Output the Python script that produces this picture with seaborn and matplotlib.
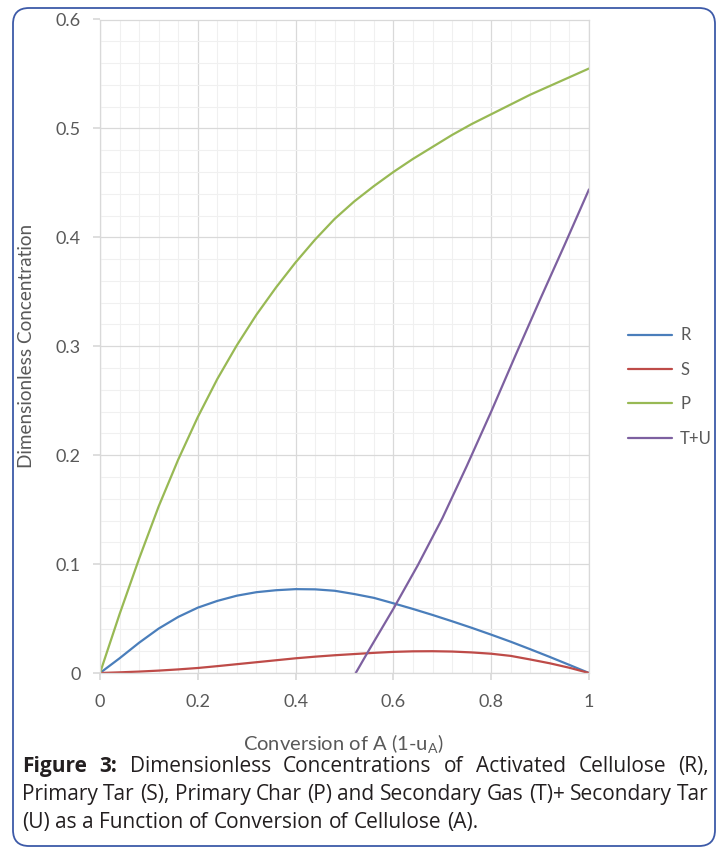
import numpy as np
import pandas as pd
import matplotlib
matplotlib.use("Agg")
import matplotlib.pyplot as plt
import seaborn as sns
from matplotlib.patches import FancyBboxPatch
from matplotlib.ticker import MultipleLocator, FuncFormatter
from matplotlib.transforms import IdentityTransform

# values
conv = [0, 0.04, 0.08, 0.12, 0.16, 0.2, 0.24, 0.28, 0.32, 0.36, 0.4, 0.44, 0.48,
        0.52, 0.56, 0.6, 0.64, 0.68, 0.72, 0.76, 0.8, 0.84, 0.88, 0.92, 0.96, 1.0]
r_vals = [0, 0.0135, 0.0278, 0.0408, 0.0515, 0.0600, 0.0662, 0.0710, 0.0742, 0.0760, 0.0770,
          0.0768, 0.0755, 0.0725, 0.0690, 0.0640, 0.0588, 0.0533, 0.0475, 0.0415, 0.0352,
          0.0287, 0.0218, 0.0147, 0.0074, 0.0]
s_vals = [0, 0.0006, 0.0013, 0.0022, 0.0033, 0.0046, 0.0063, 0.0081, 0.0099, 0.0117, 0.0135,
          0.015, 0.0163, 0.0174, 0.0185, 0.0194, 0.0199, 0.0200, 0.0197, 0.0189, 0.0177,
          0.0157, 0.0124, 0.0089, 0.0048, 0.0]
p_vals = [0, 0.054, 0.105, 0.153, 0.196, 0.235, 0.270, 0.301, 0.329, 0.354, 0.377,
          0.398, 0.417, 0.433, 0.447, 0.460, 0.472, 0.483, 0.494, 0.504, 0.513,
          0.522, 0.531, 0.539, 0.547, 0.555]
tu_conv = [0.523, 0.55, 0.6, 0.65, 0.7, 0.75, 0.8, 0.85, 0.9, 0.95, 1.0]
tu_vals = [0, 0.021, 0.059, 0.099, 0.142, 0.19, 0.24, 0.292, 0.343, 0.393, 0.444]

series = ["R", "S", "P", "T+U"]
colors = {"R": "#4a7ebb", "S": "#be4b48", "P": "#98b954", "T+U": "#7d60a0"}

df = pd.concat([
    pd.DataFrame({"x": conv, "y": r_vals, "series": "R"}),
    pd.DataFrame({"x": conv, "y": s_vals, "series": "S"}),
    pd.DataFrame({"x": conv, "y": p_vals, "series": "P"}),
    pd.DataFrame({"x": tu_conv, "y": tu_vals, "series": "T+U"}),
], ignore_index=True)

sns.set_theme(style="white")
plt.rcParams["font.family"] = ["Lato", "DejaVu Sans"]
plt.rcParams["mathtext.fontset"] = "custom"
plt.rcParams["mathtext.rm"] = "Lato"

W, H = 720, 848
fig = plt.figure(figsize=(W / 100, H / 100), dpi=100)
ax = fig.add_axes([100 / W, 1 - 673 / H, 489 / W, 653.5 / H])

sns.lineplot(data=df, x="x", y="y", hue="series", hue_order=series,
             palette=colors, estimator=None, linewidth=1.6, ax=ax, sort=False)

ax.set_xlim(0, 1)
ax.set_ylim(0, 0.6)
ax.xaxis.set_major_locator(MultipleLocator(0.2))
ax.xaxis.set_minor_locator(MultipleLocator(0.04))
ax.yaxis.set_major_locator(MultipleLocator(0.1))
ax.yaxis.set_minor_locator(MultipleLocator(0.02))
fmt = FuncFormatter(lambda v, p: f"{v:g}")
ax.xaxis.set_major_formatter(fmt)
ax.yaxis.set_major_formatter(fmt)
ax.grid(which="major", color="#d9d9d9", linewidth=0.9)
ax.grid(which="minor", color="#f0f0f0", linewidth=0.8)
ax.set_axisbelow(True)
for sp in ax.spines.values():
    sp.set_color("#d9d9d9")
    sp.set_linewidth(0.9)
ax.tick_params(which="major", length=5, color="#d9d9d9", labelcolor="#595959",
               labelsize=13, bottom=True, left=True)
ax.tick_params(axis="x", pad=10)
ax.tick_params(axis="y", pad=9)
ax.tick_params(which="minor", length=0)

ax.set_ylabel("Dimensionless Concentration", color="#595959", fontsize=13.6)
ax.set_xlabel(r"Conversion of A (1-u$_\mathregular{A}$)", color="#595959", fontsize=14.5)
ax.yaxis.set_label_coords(-0.133, 0.5)
ax.xaxis.set_label_coords(0.497, -0.092)

sns.move_legend(ax, "center left", bbox_to_anchor=(628 / W, 1 - 387 / H),
                bbox_transform=fig.transFigure, frameon=False, title=None,
                handlelength=2.65, handletextpad=0.48, labelspacing=1.1,
                borderpad=0, borderaxespad=0, fontsize=12, labelcolor="#595959")

# caption, justified like the journal text
cap_lines = [
    [("Figure", "bold"), ("3:", "bold"), ("Dimensionless", "normal"), ("Concentrations", "normal"),
     ("of", "normal"), ("Activated", "normal"), ("Cellulose", "normal"), ("(R),", "normal")],
    [(w, "normal") for w in "Primary Tar (S), Primary Char (P) and Secondary Gas (T)+ Secondary Tar".split()],
    [(w, "normal") for w in "(U) as a Function of Conversion of Cellulose (A).".split()],
]
baselines = [772, 800, 828]
left_px, right_px = 22, 709
renderer = fig.canvas.get_renderer()
for i, (words, base) in enumerate(zip(cap_lines, baselines)):
    texts = []
    for w, weight in words:
        t = fig.text(0, 1 - base / H, w, fontsize=15, fontweight=weight,
                     family=["Open Sans", "DejaVu Sans"], color="#231f20", va="baseline")
        texts.append(t)
    widths = [t.get_window_extent(renderer).width for t in texts]
    if i < len(cap_lines) - 1:
        gap = (right_px - left_px - sum(widths)) / (len(words) - 1)
    else:
        gap = 15 * 100 / 72 * 0.26
    x = left_px
    for t, wd in zip(texts, widths):
        t.set_x(x / W)
        x += wd + gap

border = FancyBboxPatch((13, 2), 702, H - 10, boxstyle="round,pad=0,rounding_size=16",
                        transform=IdentityTransform(), facecolor="none",
                        edgecolor="#3d5aa8", linewidth=1.3)
fig.add_artist(border)

fig.savefig("out.png", dpi=100)
